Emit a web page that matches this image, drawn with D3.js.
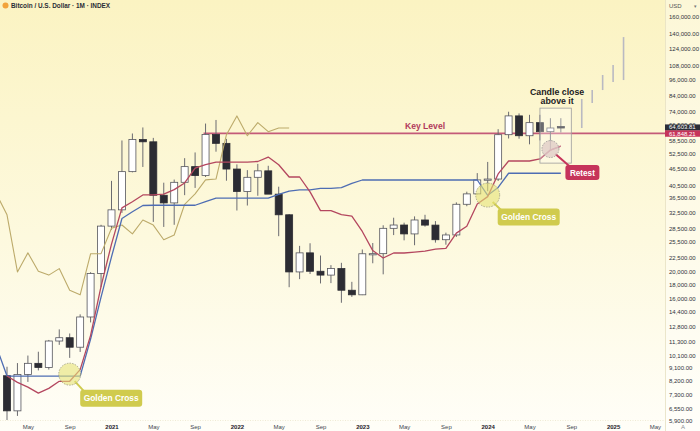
<!DOCTYPE html>
<html><head><meta charset="utf-8">
<script src="https://cdn.jsdelivr.net/npm/d3@7"></script>
<style>html,body{margin:0;padding:0;background:#fff;}svg{display:block;font-family:"Liberation Sans",Arial,sans-serif;}</style>
</head><body><svg id="c" width="700" height="431"></svg>
<script>
// ---- data ----
const months = ["2020-03","2020-04","2020-05","2020-06","2020-07","2020-08","2020-09","2020-10","2020-11","2020-12",
"2021-01","2021-02","2021-03","2021-04","2021-05","2021-06","2021-07","2021-08","2021-09","2021-10","2021-11","2021-12",
"2022-01","2022-02","2022-03","2022-04","2022-05","2022-06","2022-07","2022-08","2022-09","2022-10","2022-11","2022-12",
"2023-01","2023-02","2023-03","2023-04","2023-05","2023-06","2023-07","2023-08","2023-09","2023-10","2023-11","2023-12",
"2024-01","2024-02","2024-03","2024-04","2024-05","2024-06","2024-07","2024-08"];
const open  = [8540,6410,8630,9450,9140,11340,11650,10780,13800,19700,28990,33110,45240,58800,57720,37300,35040,41460,47130,43820,61310,57000,46210,38470,43190,45530,37640,31800,19940,23300,20050,19430,20490,17170,16540,23130,23150,28470,29250,27200,30480,29230,25940,26970,34650,37720,42280,42580,61180,71330,60660,67500,62700,65400];
const high  = [9190,9470,10070,10390,11440,12470,12060,14100,19900,29300,41950,58350,61780,64900,59600,41330,42400,50500,52920,67000,69000,59100,47990,45800,48200,47450,40000,31980,24670,25200,22800,21080,21480,18390,23950,25250,29190,31050,29820,31390,31800,30200,27480,35190,38400,44700,48970,64000,73800,72800,71950,71950,70000,70000];
const low   = [3850,6150,8120,8920,8980,10990,9880,10370,13200,17600,28130,32300,44970,47000,30000,28800,29300,37330,39600,43300,53250,42000,32930,34300,37150,37700,26700,17600,18800,19600,18150,18200,15500,16260,16500,21400,19550,26940,25810,24800,28860,25330,24900,26540,34100,37600,38550,41900,59300,59200,56550,58400,53500,62300];
const close = [6410,8630,9450,9140,11340,11650,10780,13800,19700,28990,33110,45240,58800,57720,37300,35040,41460,47130,43820,61310,57000,46210,38470,43190,45530,37640,31800,19940,23300,20050,19430,20490,17170,16540,23130,23150,28470,29250,27200,30480,29230,25940,26970,34650,37720,42280,42580,61180,71330,60660,67500,62700,64620,64604];

// Ichimoku conversion line (red), from 2020-03
const tenkanStart = "2020-03";
const tenkan = [8525,8090,7780,7410,7700,8160,8160,8975,11875,17725,25035,33635,35380,37390,37390,37635,39050,41250,46515,47900,48900,48900,48900,48900,49150,50965,47850,43300,43300,38350,32900,32900,31850,31475,27750,23740,22345,23275,23275,23445,23650,24030,24150,27370,28975,34750,36885,44400,49350,49350,49350,50170,53950,55700];
// Ichimoku base line (blue), from 2020-01
const kijunStart = "2020-01";
const kijun = [11475,10800,8515,8515,8515,8515,8515,8515,8515,8515,11525,16225,22550,30850,32590,34310,34375,34375,34375,34375,34375,35425,36425,36425,36425,36425,36425,36425,37575,38560,38960,38990,39440,39440,39685,41100,42250,42250,42250,42250,42250,42250,42250,42250,42250,42250,42250,42250,37300,39750,44650,44650,44650,44650,44650,44650];
// lagging span (olive), from 2020-01
const laggingStart = "2020-01";
const lagging = [45530,37640,31800,19940,23300,20050,19430,20490,17170,16540,23130,23150,28470,29250,27200,30480,29230,25940,26970,34650,37720,42280,42580,61180,71330,60660,67500,62700,64620,64604];

// projected ranges (grey)
const projMonths = ["2024-10","2024-11","2024-12","2025-01","2025-02"];
const projHigh = [81900,88100,99600,108100,135800];
const projLow  = [64600,79200,88100,94000,95600];

const keyLevel = 61848.21;
const keyLevelFrom = "2021-10";
const lastPrice = 64603.81;

const goldenCross = [["2020-09",8650],["2024-01",37350]];
const retest = ["2024-07",54400];
const closeBox = {from:"2024-06", to:"2024-09", top:76000, bottom:48500};

const xTickMonths = ["2020-05","2020-09","2021-01","2021-05","2021-09","2022-01","2022-05","2022-09","2023-01","2023-05","2023-09","2024-01","2024-05","2024-09","2025-01","2025-05"];
const xTickLabels = ["May","Sep","2021","May","Sep","2022","May","Sep","2023","May","Sep","2024","May","Sep","2025","May"];
const yTicks = [160000,140000,124000,108000,96000,84000,74000,66500,58500,52500,46500,40500,36500,32500,28500,25500,22500,20000,18000,16000,14400,12800,11300,10100,9100,8200,7300,6550,5900];

// ---- helpers ----
const mi = s => { const [y,m] = s.split("-").map(Number); return (y-2020)*12 + (m-1); };
const W = 700, H = 431, plotR = 665, plotB = 420;

const x = d3.scaleLinear().domain([12,55]).range([111.5, 111.5 + 43*10.45]);
const y = d3.scaleLog().domain([160000,5900]).range([17,421]);

const svg = d3.select("#c");
const defs = svg.append("defs");
const g = defs.append("linearGradient").attr("id","bg").attr("x1",0).attr("y1",0).attr("x2",0).attr("y2",1);
g.append("stop").attr("offset","0%").attr("stop-color","#fbf3c2");
g.append("stop").attr("offset","55%").attr("stop-color","#fdf9de");
g.append("stop").attr("offset","100%").attr("stop-color","#fffef8");
defs.append("clipPath").attr("id","clip").append("rect").attr("x",0).attr("y",0).attr("width",plotR).attr("height",plotB);

svg.append("rect").attr("width",W).attr("height",H).attr("fill","url(#bg)");
svg.append("rect").attr("x",plotR).attr("y",0).attr("width",W-plotR).attr("height",H).attr("fill","#ffffff").attr("opacity",0.35);
svg.append("line").attr("x1",plotR+0.5).attr("x2",plotR+0.5).attr("y1",0).attr("y2",H).attr("stroke","#e6e0c0").attr("stroke-width",0.8);
svg.append("line").attr("x1",0).attr("x2",plotR).attr("y1",plotB+0.5).attr("y2",plotB+0.5).attr("stroke","#ebe6cc").attr("stroke-width",0.8).attr("stroke-dasharray","1,1.5");

const plot = svg.append("g").attr("clip-path","url(#clip)");

// key level
plot.append("line").attr("x1",x(mi(keyLevelFrom))-2).attr("x2",plotR).attr("y1",y(keyLevel)).attr("y2",y(keyLevel))
  .attr("stroke","#c35a79").attr("stroke-width",1.8);

// projection bars
plot.selectAll(".proj").data(projMonths).join("line")
  .attr("x1",d=>x(mi(d))).attr("x2",d=>x(mi(d)))
  .attr("y1",(d,i)=>y(projHigh[i])).attr("y2",(d,i)=>y(projLow[i]))
  .attr("stroke","#b9b9c2").attr("stroke-width",1.6);

// candles
const bw = 7;
const cg = plot.append("g");
cg.selectAll(".wick").data(months).join("line")
  .attr("x1",d=>x(mi(d))).attr("x2",d=>x(mi(d)))
  .attr("y1",(d,i)=>y(high[i])).attr("y2",(d,i)=>y(low[i]))
  .attr("stroke","#6b6b70").attr("stroke-width",1);
cg.selectAll(".body").data(months).join("rect")
  .attr("x",d=>x(mi(d))-bw/2)
  .attr("y",(d,i)=>y(Math.max(open[i],close[i])))
  .attr("width",bw)
  .attr("height",(d,i)=>Math.max(1.2, y(Math.min(open[i],close[i])) - y(Math.max(open[i],close[i]))))
  .attr("fill",(d,i)=>close[i]>=open[i]?"#ffffff":"#2c2c33")
  .attr("stroke",(d,i)=>close[i]>=open[i]?"#55555c":"#2c2c33")
  .attr("stroke-width",0.8);

// lines
const lineFor = (start, arr, col, w) => {
  const s = mi(start);
  plot.append("path").datum(arr)
    .attr("d", d3.line().x((d,i)=>x(s+i)).y(d=>y(d)))
    .attr("fill","none").attr("stroke",col).attr("stroke-width",w).attr("stroke-linejoin","round");
};
lineFor(laggingStart, lagging, "#bcaa6a", 1.1);
lineFor(kijunStart, kijun, "#4e6db3", 1.3);
lineFor(tenkanStart, tenkan, "#b4475f", 1.3);

// key level text
svg.append("text").attr("x",425).attr("y",y(keyLevel)-4).attr("text-anchor","middle")
  .attr("font-size",8.6).attr("font-weight","bold").attr("fill","#b23a5c").text("Key Level");

// candle close box
const bx0 = x(mi(closeBox.from)), bx1 = x(mi(closeBox.to));
svg.append("rect").attr("x",bx0).attr("y",y(closeBox.top)).attr("width",bx1-bx0).attr("height",y(closeBox.bottom)-y(closeBox.top))
  .attr("fill","#ffffff").attr("fill-opacity",0.3).attr("stroke","#9d9d9d").attr("stroke-width",0.8);
svg.append("text").attr("x",(bx0+bx1)/2+1.5).attr("y",95).attr("text-anchor","middle").attr("font-size",8.8).attr("font-weight","bold").attr("fill","#222").text("Candle close");
svg.append("text").attr("x",(bx0+bx1)/2+1.5).attr("y",104).attr("text-anchor","middle").attr("font-size",8.8).attr("font-weight","bold").attr("fill","#222").text("above it");

// golden cross annotations
const gcOff = [[10.5,15.5],[10,13.5]];
goldenCross.forEach((d,i)=>{
  const cx = x(mi(d[0])), cy = y(d[1]);
  const [dx,dy] = gcOff[i];
  svg.append("line").attr("x1",cx+5).attr("y1",cy+7).attr("x2",cx+dx+6).attr("y2",cy+dy+4).attr("stroke","#cfcb4f").attr("stroke-width",2);
  svg.append("circle").attr("cx",cx).attr("cy",cy).attr("r",i?12:11)
    .attr("fill","#e6e277").attr("fill-opacity",0.6).attr("stroke","#8f8f78").attr("stroke-width",0.7).attr("stroke-dasharray","1.5,1.2");
  svg.append("rect").attr("x",cx+dx).attr("y",cy+dy).attr("width",62).attr("height",17).attr("rx",3)
    .attr("fill","#d0cb4e");
  svg.append("text").attr("x",cx+dx+31).attr("y",cy+dy+11.5).attr("text-anchor","middle").attr("font-size",8.4)
    .attr("font-weight","bold").attr("fill","#ffffff").text("Golden Cross");
});

// retest
{
  const cx = x(mi(retest[0])), cy = y(retest[1]);
  svg.append("line").attr("x1",cx+5).attr("y1",cy+5).attr("x2",cx+20).attr("y2",cy+18).attr("stroke","#c6345a").attr("stroke-width",2);
  svg.append("circle").attr("cx",cx).attr("cy",cy).attr("r",8.5)
    .attr("fill","#ddc9c6").attr("fill-opacity",0.75).attr("stroke","#8a8a8a").attr("stroke-width",0.7).attr("stroke-dasharray","1.5,1.2");
  // redraw red line segment on top of the circle
  const s = mi(tenkanStart);
  plot.append("path").datum(tenkan.slice(-3))
    .attr("d", d3.line().x((d,i)=>x(s+tenkan.length-3+i)).y(d=>y(d)))
    .attr("fill","none").attr("stroke","#b4475f").attr("stroke-width",1.3);
  svg.append("rect").attr("x",cx+15).attr("y",cy+16).attr("width",34).attr("height",15).attr("rx",3).attr("fill","#c6345a");
  svg.append("text").attr("x",cx+32).attr("y",cy+26.5).attr("text-anchor","middle").attr("font-size",8.2)
    .attr("font-weight","bold").attr("fill","#ffffff").text("Retest");
}

// y axis
const fmt = d3.format(",.2f");
const ya = svg.append("g").attr("transform",`translate(${plotR},0)`)
  .call(d3.axisRight(y).tickValues(yTicks).tickFormat(fmt).tickSize(0).tickPadding(4));
ya.select(".domain").remove();
ya.selectAll("text").attr("font-size",6).attr("fill","#2f323c").attr("font-family","'Liberation Sans',Arial,sans-serif");

// price labels
const pl = svg.append("g");
pl.append("rect").attr("x",plotR).attr("y",y(lastPrice)-3.6).attr("width",35).attr("height",6.2).attr("fill","#2b2e38");
pl.append("text").attr("x",plotR+4).attr("y",y(lastPrice)+1.3).attr("font-size",6).attr("fill","#fff").text(fmt(lastPrice));
pl.append("rect").attr("x",plotR).attr("y",y(keyLevel)-3).attr("width",35).attr("height",6.4).attr("fill","#c6345a");
pl.append("text").attr("x",plotR+4).attr("y",y(keyLevel)+2.2).attr("font-size",6).attr("fill","#fff").text(fmt(keyLevel));

// x axis
const xa = svg.append("g").attr("transform",`translate(0,${plotB})`)
  .call(d3.axisBottom(x).tickValues(xTickMonths.map(mi)).tickFormat((d,i)=>xTickLabels[i]).tickSize(0).tickPadding(4.5));
xa.select(".domain").remove();
xa.selectAll("text").attr("font-size",6).attr("font-family","'Liberation Sans',Arial,sans-serif")
  .attr("fill",(d,i)=>/^\d/.test(xTickLabels[i])?"#1e2028":"#444750")
  .attr("font-weight",(d,i)=>/^\d/.test(xTickLabels[i])?"bold":"normal");
svg.append("text").attr("x",683).attr("y",429).attr("text-anchor","middle").attr("font-size",6).attr("fill","#8a8d96").text("A");

// header
svg.append("circle").attr("cx",5.5).attr("cy",5.5).attr("r",3).attr("fill","#f2a33a");
svg.append("text").attr("x",11).attr("y",7.8).attr("font-size",6.4).attr("font-weight",600).attr("fill","#2a2d36")
  .text("Bitcoin / U.S. Dollar · 1M · INDEX");
svg.append("text").attr("x",669).attr("y",8).attr("font-size",6).attr("fill","#555").text("USD");
svg.append("text").attr("x",694).attr("y",8).attr("font-size",5).attr("fill","#777").text("▾");
</script></body></html>
